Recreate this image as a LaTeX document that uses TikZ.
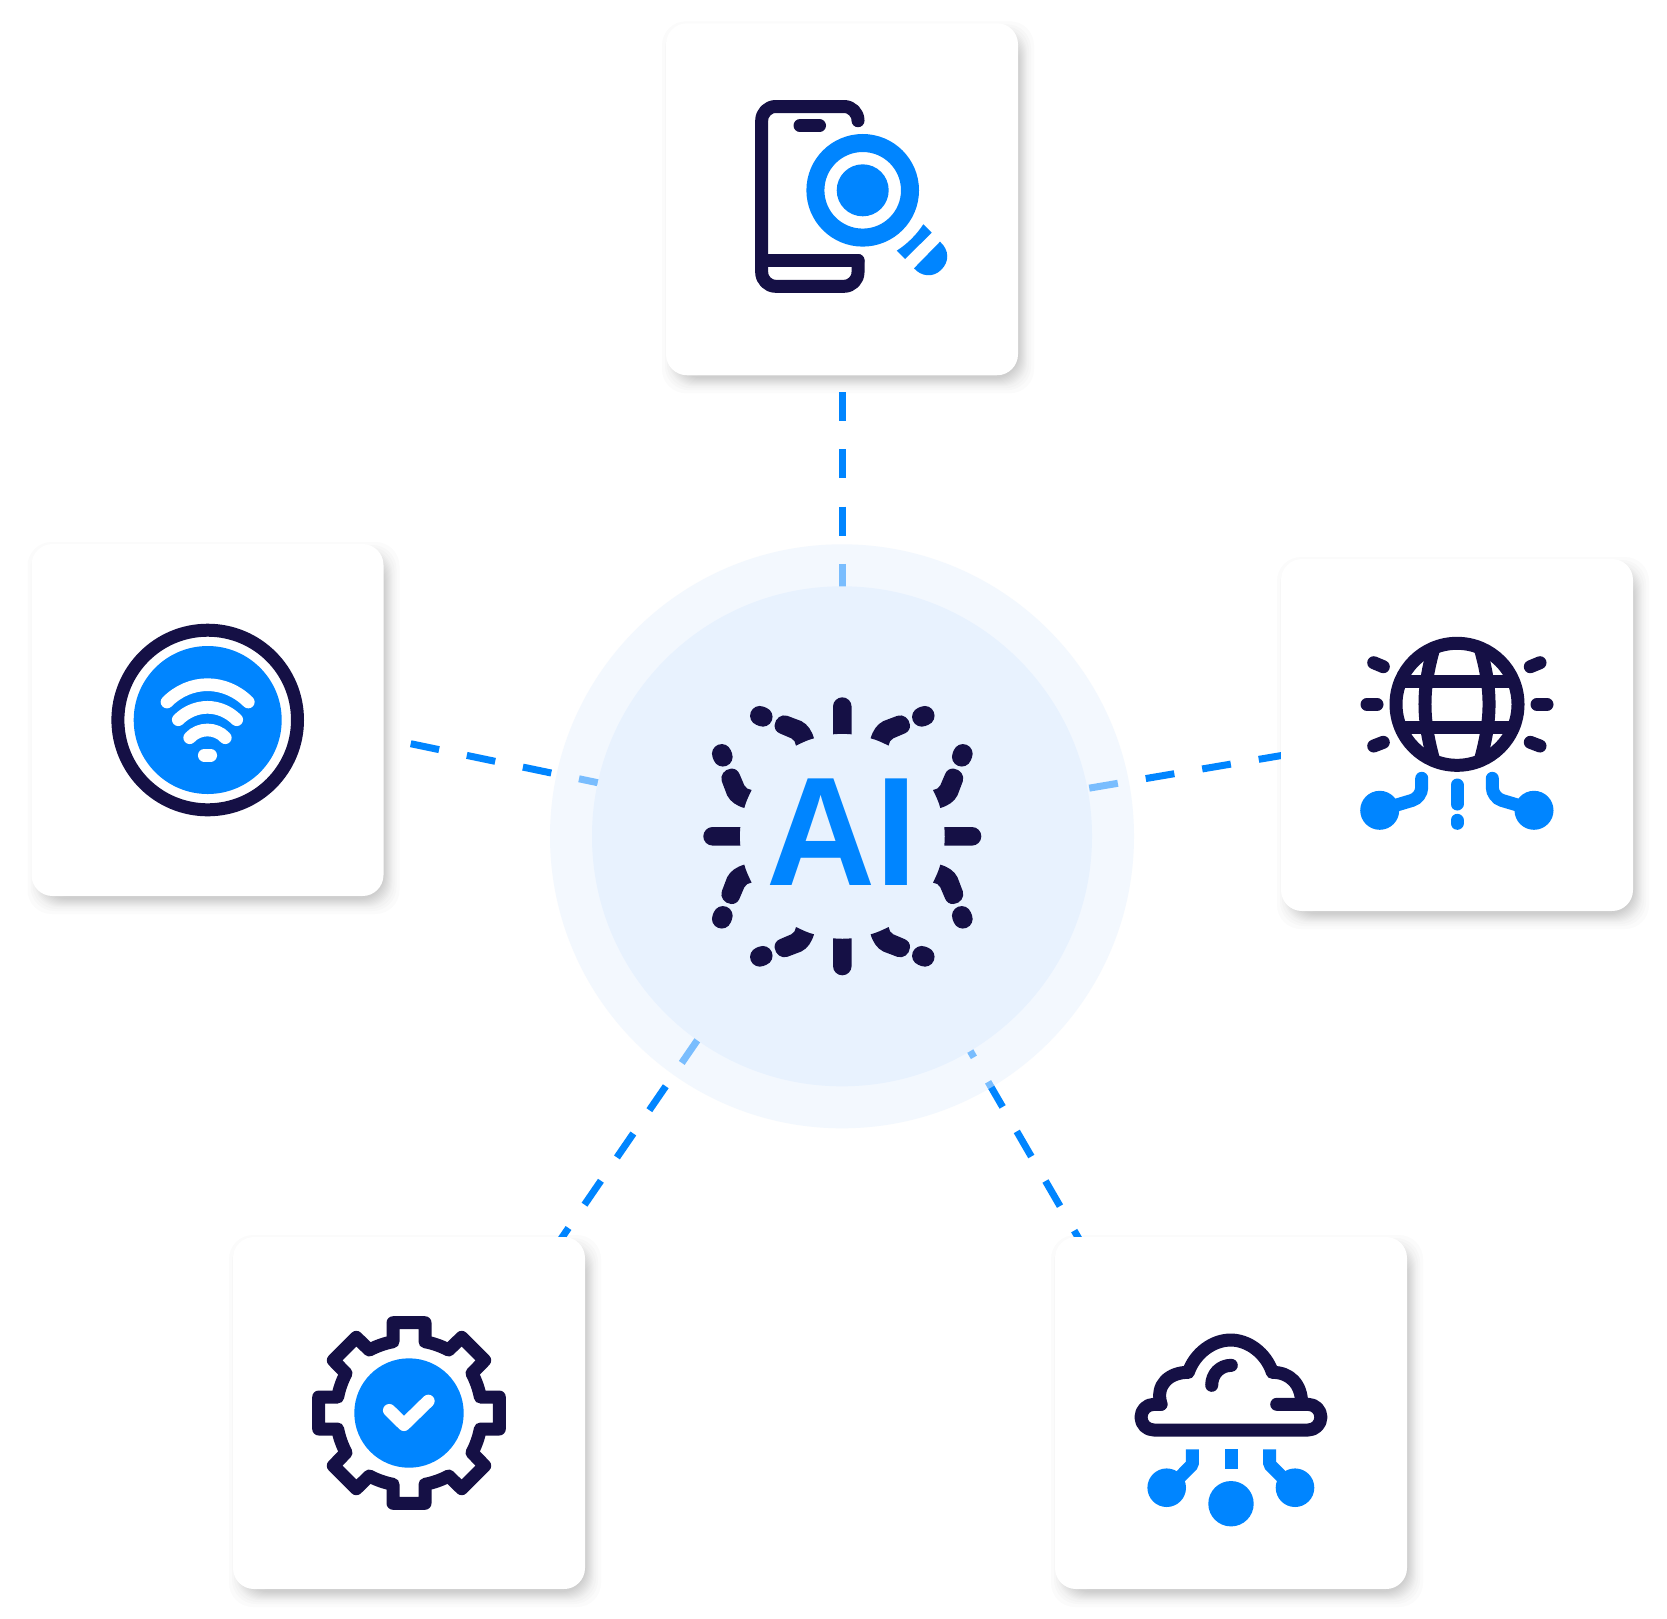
\documentclass[tikz,border=0pt]{standalone}
\usepackage{fontspec}
\setmainfont{Liberation Sans}
\definecolor{navy}{HTML}{151045}
\definecolor{brand}{HTML}{0085FF}
\definecolor{halo}{HTML}{E8F2FE}
\tikzset{
  card/.style={rectangle,rounded corners=21pt,minimum width=352pt,minimum height=352pt,inner sep=0pt,fill=white},
  link/.style={draw=brand,line width=7pt,dash pattern=on 29pt off 28.3pt},
  navystroke/.style={draw=navy,line width=13pt,line cap=round,line join=round},
  bluestroke/.style={draw=brand,line width=13pt},
  whitestroke/.style={draw=white,line width=12.7pt,line cap=round,line join=round},
}
\newcommand{\cardshadow}[2]{%
  \foreach \e in {-7,-5,-4,-3,-2,-1,0,1,2,3,5,7,10}{%
    \fill[black,opacity=.016,rounded corners=24pt]
      (#1-176+6-\e,#2-176+8-\e) rectangle (#1+176+6+\e,#2+176+8+\e);
  }%
}
\begin{document}
\begin{tikzpicture}[x=1pt,y=-1pt]
\useasboundingbox (0,0) rectangle (1667,1618);
\fill[white] (0,0) rectangle (1667,1618);

% card shadows
\cardshadow{842}{199.25}
\cardshadow{207.5}{720}
\cardshadow{1457}{735}
\cardshadow{409}{1413}
\cardshadow{1231}{1413}

% connector ends
\coordinate (tA) at (842,392);
\coordinate (tB) at (842,650);
\coordinate (lA) at (410.7,743.7);
\coordinate (lB) at (700,804);
\coordinate (rA) at (1287.3,754.5);
\coordinate (rB) at (1000,803.3);
\coordinate (blA) at (552.1,1251.9);
\coordinate (blB) at (740,978);
\coordinate (brA) at (1088.7,1255.7);
\coordinate (brB) at (950,1016);

\draw[link] (tA) -- (tB);
\draw[link] (lA) -- (lB);
\draw[link] (rA) -- (rB);
\draw[link] (blA) -- (blB);
\draw[link] (brA) -- (brB);

% hub
\node[circle,minimum size=584pt,inner sep=0pt,fill=halo,fill opacity=.52] (hubring) at (842,836.3) {};
\node[circle,minimum size=500pt,inner sep=0pt,fill=halo] (hub) at (842,836.3) {};

% burst around AI
\foreach \a/\b/\c/\d in {1/0/0/1,1/0/0/-1,0/1/1/0,0/1/-1/0}{
  \begin{scope}[cm={\a,\b,\c,\d,(842.3,836.3)}]
    \fill[navy] (-9.3,-102) -- (-9.3,-129.7) .. controls (-9.3,-135) and (-5,-139) .. (0,-139)
      .. controls (5,-139) and (9.3,-135) .. (9.3,-129.7) -- (9.3,-102)
      .. controls (3,-102.6) and (-3,-102.6) .. cycle;
  \end{scope}
}
\foreach \a/\b/\c/\d in {1/0/0/1,0/1/1/0,-1/0/0/1,0/1/-1/0,1/0/0/-1,-1/0/0/-1,0/-1/1/0,0/-1/-1/0}{
  \begin{scope}[cm={\a,\b,\c,\d,(842.3,836.3)}]
    \fill[navy] (28.3,-98) .. controls (30.5,-105.5) and (34.5,-112) .. (41,-115.2) -- (55,-120.5)
      .. controls (61,-122.5) and (67,-118) .. (67.7,-111.3)
      .. controls (68,-107.5) and (66,-104.5) .. (62.7,-103) -- (51,-98)
      .. controls (48,-96.8) and (47,-94) .. (46.3,-90.7)
      .. controls (40.5,-93.5) and (34.5,-96.5) .. cycle;
    \draw[navy,line width=19.5pt,line cap=round] (79.5,-119.4) -- (82.5,-120.6);
  \end{scope}
}
\node[anchor=base west,inner sep=0pt,text=brand,xscale=.975] (ai) at (766,885)
  {\fontsize{155}{155}\selectfont\bfseries AI};

% cards
\node[card] (top) at (842,199.25) {};
\node[card] (left) at (207.5,720) {};
\node[card] (right) at (1457,735) {};
\node[card] (bl) at (409,1413) {};
\node[card] (br) at (1231,1413) {};

% phone + magnifier
\draw[navystroke,rounded corners=14pt] (858,120.7) -- (858,106.5) -- (761.7,106.5) -- (761.7,286.3) -- (858,286.3) -- (858,260.5);
\draw[navystroke] (858,260.5) -- (761.7,260.5);
\draw[navystroke] (800,125.7) -- (819.5,125.7);
\draw[brand,line width=18pt] (862.7,190.3) circle[radius=47.3pt];
\fill[brand] (862.7,190.3) circle[radius=26pt];
\fill[brand] (896.7,250.7) .. controls (908,243.5) and (917,234) .. (923.3,224.3) -- (931.7,232.7) -- (905,259) -- cycle;
\fill[brand] (940,241.7) .. controls (949.5,250) and (949.5,262) .. (941,270)
  .. controls (933.5,277.5) and (921.5,277) .. (914,268.3) -- cycle;

% wifi
\draw[navy,line width=13pt] (207.7,720) circle[radius=89.8pt];
\fill[brand] (207.7,720) circle[radius=74pt];
\draw[whitestroke] (167,702) .. controls (190,678.9) and (225,678.9) .. (248.3,702);
\draw[whitestroke] (178.3,719.7) .. controls (195,703.2) and (220,703.2) .. (236.7,719.7);
\draw[whitestroke] (189.7,737.7) .. controls (199,727.4) and (216,727.4) .. (225.3,737.7);
\draw[whitestroke] (204.3,755.3) -- (210.7,755.3);

% globe
\draw[navy,line width=13pt] (1457,704.3) circle[radius=61pt];
\draw[navy,line width=13pt] (1396,681.7) -- (1518,681.7);
\draw[navy,line width=13pt] (1396,727) -- (1518,727);
\draw[navy,line width=13pt] (1433.3,650) .. controls (1422.2,690) and (1422.2,718) .. (1433.3,758.7);
\draw[navy,line width=13pt] (1480.7,650) .. controls (1491.8,690) and (1491.8,718) .. (1480.7,758.7);
\draw[navystroke] (1373.7,662.7) -- (1383.3,666.7);
\draw[navystroke] (1367,704.3) -- (1377,704.3);
\draw[navystroke] (1373.7,746) -- (1383.3,742.3);
\draw[navystroke] (1540,662.7) -- (1530.3,666.7);
\draw[navystroke] (1547,704.3) -- (1537,704.3);
\draw[navystroke] (1540,746) -- (1530.3,742.3);
\fill[brand] (1379.7,810.3) circle[radius=19.5pt];
\fill[brand] (1534,810.3) circle[radius=19.5pt];
\draw[bluestroke,line cap=round,rounded corners=10pt] (1421.7,778.3) -- (1421.7,797.5) -- (1390,807);
\draw[bluestroke,line cap=round,rounded corners=10pt] (1492.3,778.3) -- (1492.3,797.5) -- (1524,807);
\draw[bluestroke,line cap=round] (1457,785) -- (1457,804);
\draw[bluestroke,line cap=round] (1457,820.3) -- (1457,823.3);

% gear
\fill[brand] (409,1413) circle[radius=54.7pt];
\draw[whitestroke] (389.3,1410.3) -- (404,1424.7) -- (428.3,1401);
\begin{scope}[shift={(409,1413)}]
\draw[navystroke]
  (16,-90.3) -- (16,-71.3) .. controls (24,-69.8) and (32,-67) .. (39.7,-63) -- (52.7,-75.7) -- (75.7,-52.7) -- (63,-39.7) .. controls (67,-32) and (69.8,-24) .. (71.3,-16) -- (90.3,-16)
  -- (90.3,16) -- (71.3,16) .. controls (69.8,24) and (67,32) .. (63,39.7) -- (75.7,52.7) -- (52.7,75.7) -- (39.7,63) .. controls (32,67) and (24,69.8) .. (16,71.3) -- (16,90.3)
  -- (-16,90.3) -- (-16,71.3) .. controls (-24,69.8) and (-32,67) .. (-39.7,63) -- (-52.7,75.7) -- (-75.7,52.7) -- (-63,39.7) .. controls (-67,32) and (-69.8,24) .. (-71.3,16) -- (-90.3,16)
  -- (-90.3,-16) -- (-71.3,-16) .. controls (-69.8,-24) and (-67,-32) .. (-63,-39.7) -- (-75.7,-52.7) -- (-52.7,-75.7) -- (-39.7,-63) .. controls (-32,-67) and (-24,-69.8) .. (-16,-71.3) -- (-16,-90.3) -- cycle;
\end{scope}

% cloud
\draw[navystroke,rounded corners=12.8pt] (1276.7,1404.3) -- (1320.9,1404.3) -- (1320.9,1430) -- (1141,1430) -- (1141,1404.3) -- (1161,1404.3);
\draw[navystroke] (1161,1404.3) .. controls (1155,1384) and (1170,1372.3) .. (1188.3,1372.3)
  .. controls (1195,1353) and (1213,1340) .. (1230.7,1340)
  .. controls (1248,1340) and (1266,1353) .. (1272.3,1372.3)
  .. controls (1290,1372.3) and (1301.7,1384) .. (1301.7,1404.3);
\draw[navystroke] (1211.7,1385.3) .. controls (1211.7,1374) and (1220,1365.3) .. (1231.3,1365.3);
\fill[brand] (1166.7,1487.7) circle[radius=19.3pt];
\fill[brand] (1295,1487.7) circle[radius=19.3pt];
\fill[brand] (1231,1503.7) circle[radius=22.7pt];
\draw[bluestroke] (1231,1449.3) -- (1231,1469);
\draw[bluestroke,line join=bevel] (1192.3,1449.3) -- (1192.3,1464.5) -- (1175,1482);
\draw[bluestroke,line join=bevel] (1269.7,1449.3) -- (1269.7,1464.5) -- (1287,1482);
\end{tikzpicture}
\end{document}
